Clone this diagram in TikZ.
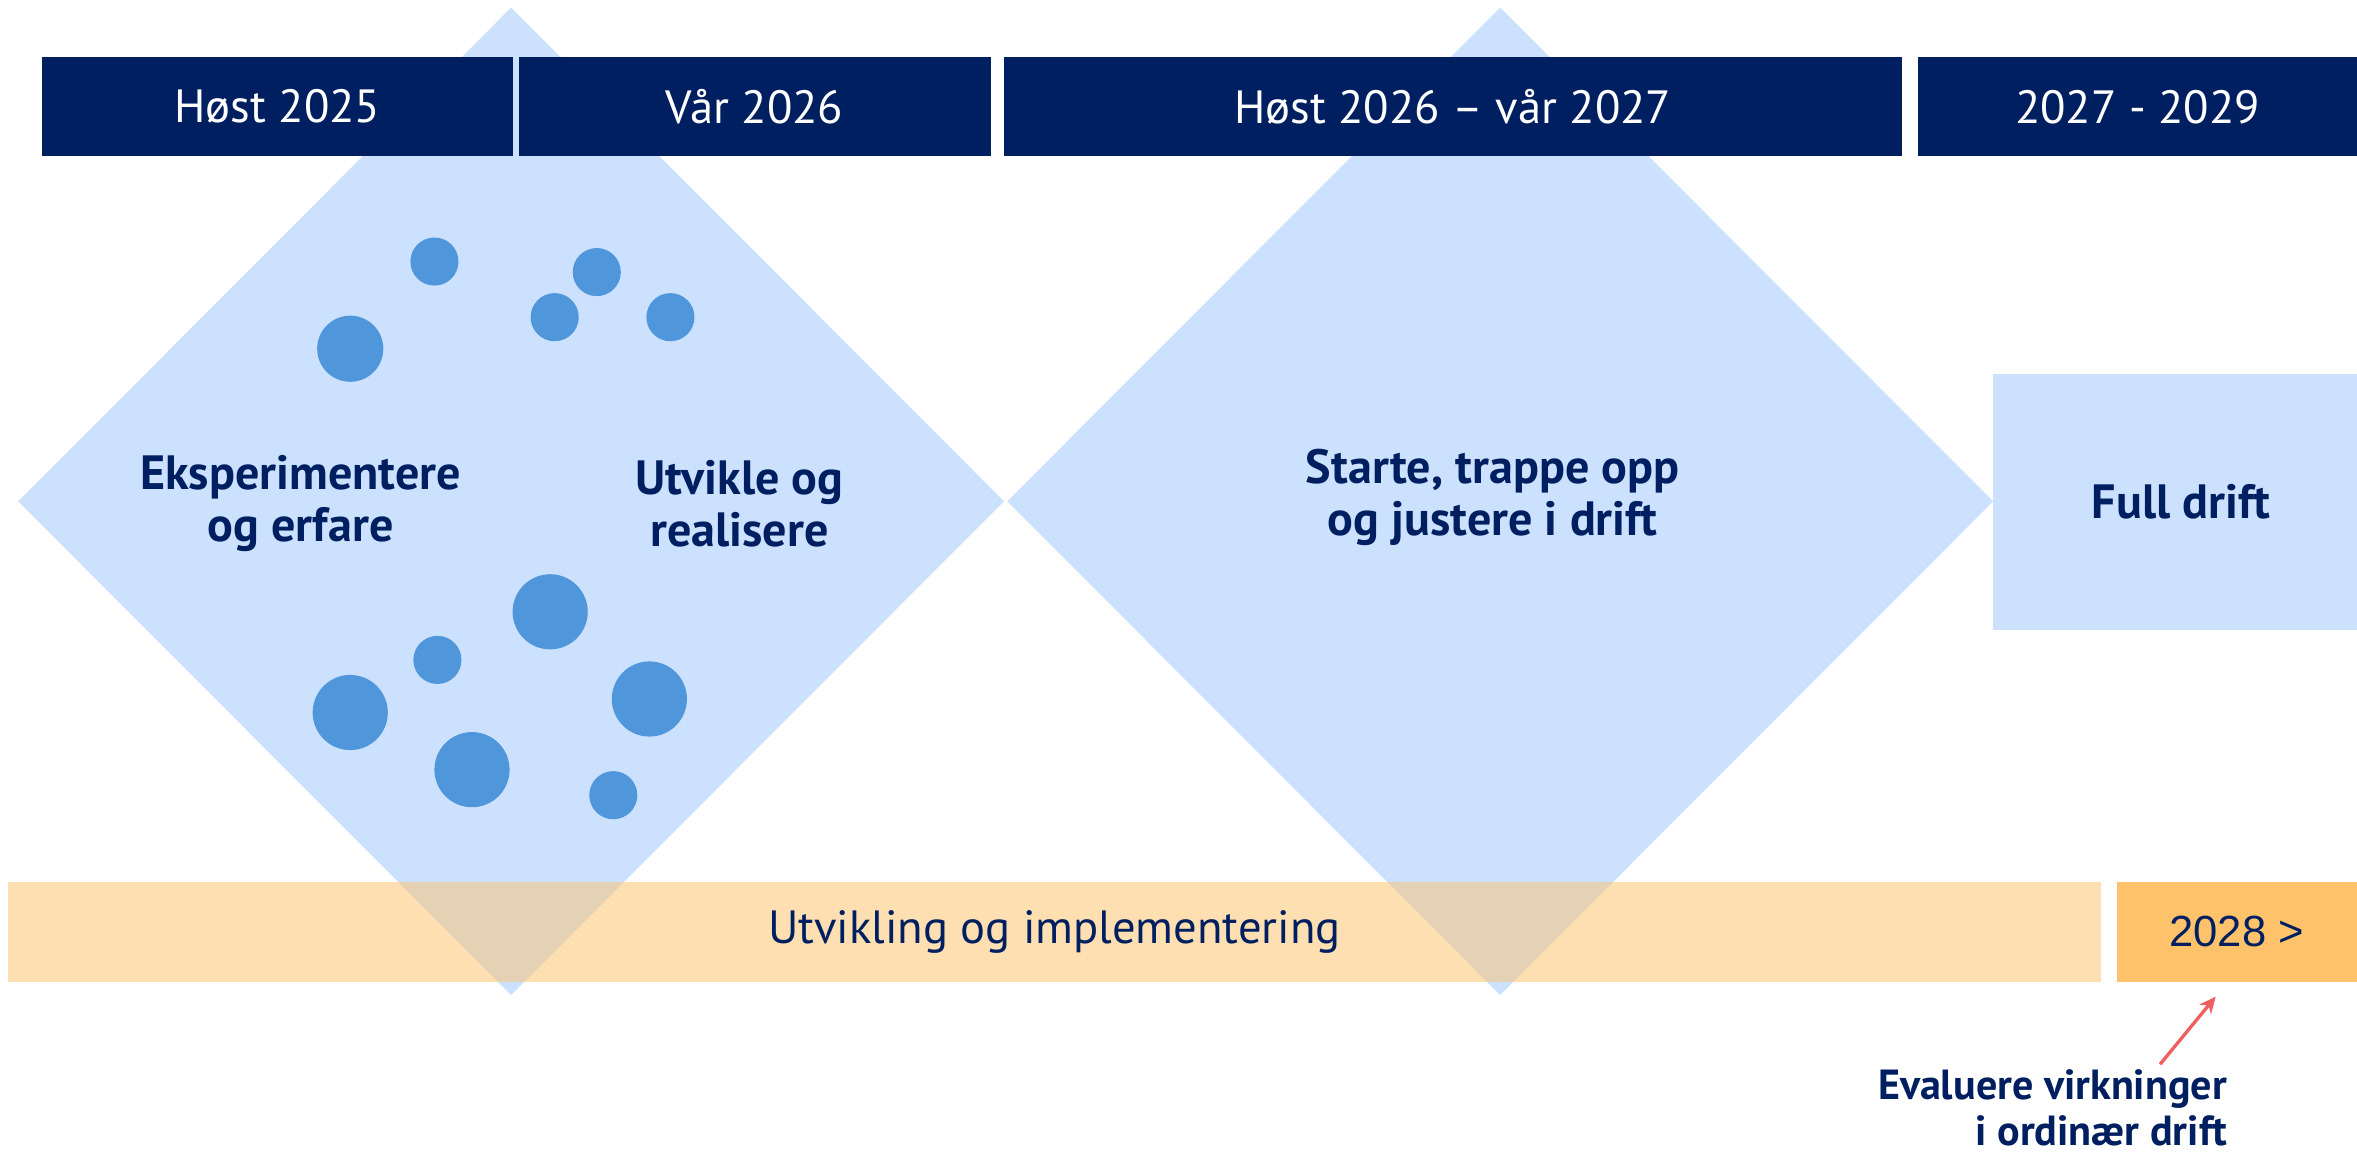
\documentclass[tikz,border=0pt]{standalone}
\usepackage{fontspec}
\setmainfont{PT Sans}
\newfontfamily\arialf{Liberation Sans}
\usetikzlibrary{shapes.geometric,arrows.meta}
\definecolor{navy}{HTML}{001F60}
\definecolor{lightblue}{HTML}{CCE1FE}
\definecolor{bubble}{HTML}{5096DA}
\definecolor{lightorange}{HTML}{FDDFB1}
\definecolor{darkorange}{HTML}{FEC36A}
\definecolor{overlap}{HTML}{E5D2B5}
\definecolor{arrowred}{HTML}{EF5F5F}
\tikzset{
  diam/.style={diamond, fill=lightblue, inner sep=0pt, minimum width=656pt, minimum height=657pt},
  hdr/.style={rectangle, fill=navy, text=white, inner sep=0pt, minimum height=66pt, font=\fontsize{31}{34}\selectfont},
  bar/.style={rectangle, inner sep=0pt, minimum height=66pt, text=navy, font=\fontsize{31}{34}\selectfont},
  phase/.style={align=center, text=navy, font=\fontsize{32}{35}\selectfont\bfseries},
  bub/.style={circle, fill=bubble, inner sep=0pt},
}
\begin{document}
\begin{tikzpicture}[x=1pt,y=-1pt]
\useasboundingbox (0,0) rectangle (1568,767);
\fill[white] (0,0) rectangle (1568,767);
% diamonds
\node[diam] (d1) at (340,333.5) {};
\node[diam] (d2) at (998,333.5) {};
% full drift box
\node[rectangle, fill=lightblue, inner sep=0pt, minimum width=242pt, minimum height=170pt] (fd) at (1447,334) {};
% orange bars
\node[bar, fill=lightorange, minimum width=1393pt] (impl) at (701.5,620) {};
\begin{scope}
  \clip (5,587) rectangle (1398,653);
  \node[diam, fill=overlap] at (d1.center) {};
  \node[diam, fill=overlap] at (d2.center) {};
\end{scope}
\node[bar] (impltext) at (impl.center) {Utvikling og implementering};
\node[bar, fill=darkorange, minimum width=160pt, font=\arialf\fontsize{29}{34}\selectfont] (y2028) at (1488,620) {2028 >};
% headers
\node[hdr, minimum width=313pt] (h1) at (184.5,71) {Høst 2025};
\node[hdr, minimum width=314pt] (h2) at (502,71) {Vår 2026};
\node[hdr, minimum width=597pt] (h3) at (966.5,71) {Høst 2026 – vår 2027};
\node[hdr, minimum width=292pt] (h4) at (1422,71) {2027 - 2029};
% bubbles
\node[bub, minimum size=32pt] (b1) at (289,174) {};
\node[bub, minimum size=32pt] (b2) at (397,181) {};
\node[bub, minimum size=32pt] (b3) at (369,211) {};
\node[bub, minimum size=32pt] (b4) at (446,211) {};
\node[bub, minimum size=44pt] (b5) at (233,232) {};
\node[bub, minimum size=50pt] (b6) at (366,407) {};
\node[bub, minimum size=32pt] (b7) at (291,439) {};
\node[bub, minimum size=50pt] (b8) at (233,474) {};
\node[bub, minimum size=50pt] (b9) at (432,465) {};
\node[bub, minimum size=50pt] (b10) at (314,512) {};
\node[bub, minimum size=32pt] (b11) at (408,529) {};
% phase texts
\node[phase] (t1) at (200,335) {Eksperimentere\\og erfare};
\node[phase] (t2) at (492,335) {Utvikle og\\realisere};
\node[phase] (t3) at (993,331) {Starte, trappe opp\\og justere i drift};
\node[phase] (t4) at (1451,334) {Full drift};
% evaluation note
\node[align=right, anchor=east, text=navy, font=\fontsize{28}{30}\selectfont\bfseries] (ev) at (1485,737) {Evaluere virkninger\\i ordinær drift};
\coordinate (arS) at (1437,708);
\coordinate (arE) at (1474,663);
\draw[arrowred, line width=2.2pt, -{Stealth[length=11pt,width=10pt]}] (arS) -- (arE);
\end{tikzpicture}
\end{document}
